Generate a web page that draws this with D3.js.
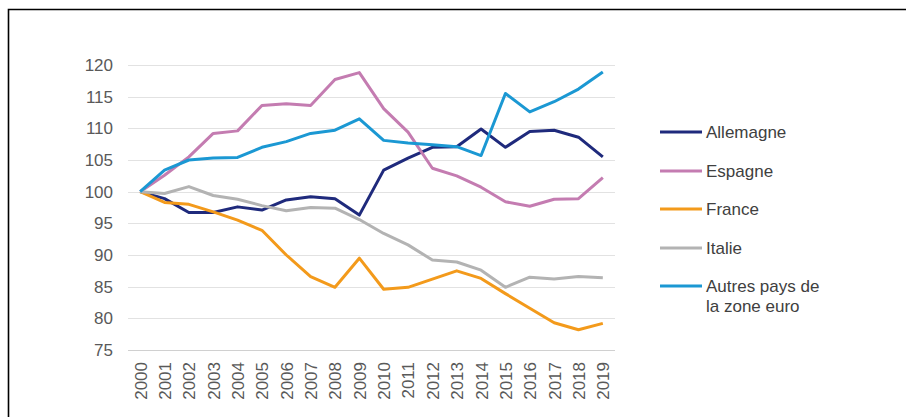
<!DOCTYPE html>
<html>
<head>
<meta charset="utf-8">
<script src="https://cdn.jsdelivr.net/npm/d3@7"></script>
<style>
  html, body { margin: 0; padding: 0; background: #fff; }
  svg { display: block; font-family: "Liberation Sans", Arial, sans-serif; }
</style>
</head>
<body>
<svg id="chart" width="906" height="417"></svg>
<script>
// Years on the category axis
const years = ["2000","2001","2002","2003","2004","2005","2006","2007","2008","2009",
               "2010","2011","2012","2013","2014","2015","2016","2017","2018","2019"];

// Index values, base 100 in 2000
const allemagne = [100, 98.9, 96.7, 96.7, 97.6, 97.1, 98.7, 99.2, 98.9, 96.3,
                   103.4, 105.3, 107.0, 107.1, 109.9, 107.0, 109.5, 109.7, 108.6, 105.5];
const espagne   = [100, 102.6, 105.5, 109.2, 109.6, 113.6, 113.9, 113.6, 117.7, 118.8,
                   113.1, 109.4, 103.7, 102.5, 100.7, 98.4, 97.7, 98.8, 98.9, 102.2];
const france    = [100, 98.3, 98.0, 96.8, 95.5, 93.9, 90.0, 86.6, 84.9, 89.5,
                   84.6, 84.9, 86.2, 87.5, 86.3, 83.9, 81.6, 79.3, 78.2, 79.2];
const italie    = [100, 99.7, 100.8, 99.4, 98.8, 97.8, 97.0, 97.5, 97.4, 95.6,
                   93.4, 91.6, 89.2, 88.9, 87.6, 84.9, 86.5, 86.2, 86.6, 86.4];
const autres    = [100, 103.4, 105.0, 105.3, 105.4, 107.0, 107.9, 109.2, 109.7, 111.5,
                   108.1, 107.7, 107.4, 107.1, 105.7, 115.5, 112.6, 114.2, 116.2, 118.9];

const yTicks = [75, 80, 85, 90, 95, 100, 105, 110, 115, 120];

const seriesNames  = ["Allemagne", "Espagne", "France", "Italie", "Autres pays de la zone euro"];
const seriesValues = [allemagne, espagne, france, italie, autres];
const seriesColors = ["#1f2a7c", "#c47cb1", "#f39a1b", "#b3b3b3", "#1b98d3"];

const svg = d3.select("#chart");

// Outer frame (top and left edges)
svg.append("path")
  .attr("d", "M8.5,417 L8.5,9.5 L906,9.5")
  .attr("fill", "none")
  .attr("stroke", "#000")
  .attr("stroke-width", 1.6);

const x = d3.scalePoint().domain(years).range([128, 615]).padding(0.5);
const y = d3.scaleLinear().domain([75, 120]).range([350, 65]);

// Horizontal gridlines
svg.append("g")
  .selectAll("line")
  .data(yTicks)
  .join("line")
  .attr("x1", 128).attr("x2", 615)
  .attr("y1", d => Math.round(y(d)) + 0.5)
  .attr("y2", d => Math.round(y(d)) + 0.5)
  .attr("stroke", d => d === 75 ? "#d0d0d0" : "#e2e2e2")
  .attr("stroke-width", 1);

// Y axis labels
const yAxis = d3.axisLeft(y).tickValues(yTicks).tickSize(0).tickPadding(0);
const gy = svg.append("g").attr("transform", "translate(113,0)").call(yAxis);
gy.select(".domain").remove();
gy.selectAll("text")
  .attr("font-size", 17)
  .attr("fill", "#595959")
  .attr("font-family", "'Liberation Sans', Arial, sans-serif");

// X axis labels, rotated
const xAxis = d3.axisBottom(x).tickSize(0).tickPadding(0);
const gx = svg.append("g").attr("transform", "translate(0,350)").call(xAxis);
gx.select(".domain").remove();
gx.selectAll("text")
  .attr("font-size", 17)
  .attr("fill", "#595959")
  .attr("font-family", "'Liberation Sans', Arial, sans-serif")
  .attr("text-anchor", "end")
  .attr("transform", "rotate(-90)")
  .attr("x", -12)
  .attr("y", 0)
  .attr("dy", "0.35em");

// Series lines
const line = d3.line()
  .x((d, i) => x(years[i]))
  .y(d => y(d));

svg.append("g")
  .selectAll("path")
  .data(seriesValues)
  .join("path")
  .attr("d", d => line(d))
  .attr("fill", "none")
  .attr("stroke", (d, i) => seriesColors[i])
  .attr("stroke-width", 3)
  .attr("stroke-linejoin", "round")
  .attr("stroke-linecap", "butt");

// Legend
const legendY = [132, 171, 209, 248, 286];
const legend = svg.append("g");
seriesNames.forEach((name, i) => {
  const g = legend.append("g").attr("transform", `translate(660,${legendY[i]})`);
  g.append("line")
    .attr("x1", 0).attr("x2", 42)
    .attr("y1", 0).attr("y2", 0)
    .attr("stroke", seriesColors[i])
    .attr("stroke-width", 3);
  const t = g.append("text")
    .attr("x", 46)
    .attr("y", 0)
    .attr("dy", "0.35em")
    .attr("font-size", 17)
    .attr("fill", "#404040");
  if (i === 4) {
    t.append("tspan").attr("x", 46).text("Autres pays de");
    t.append("tspan").attr("x", 46).attr("dy", "1.2em").text("la zone euro");
  } else {
    t.text(name);
  }
});
</script>
</body>
</html>
